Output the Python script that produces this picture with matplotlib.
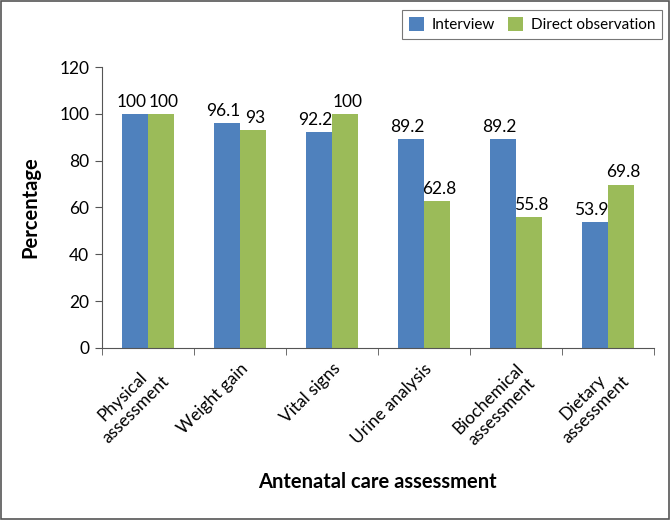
import matplotlib
matplotlib.use("Agg")
import matplotlib.pyplot as plt
import numpy as np
from matplotlib.patches import Rectangle

categories = ["Physical\nassessment", "Weight gain", "Vital signs", "Urine analysis",
              "Biochemical\nassessment", "Dietary\nassessment"]
interview = [100, 96.1, 92.2, 89.2, 89.2, 53.9]
direct_obs = [100, 93, 100, 62.8, 55.8, 69.8]
interview_labels = ["100", "96.1", "92.2", "89.2", "89.2", "53.9"]
direct_labels = ["100", "93", "100", "62.8", "55.8", "69.8"]

plt.rcParams['font.family'] = ['Lato', 'DejaVu Sans']

fig = plt.figure(figsize=(6.7, 5.2), dpi=100)
ax = fig.add_axes([0.152, 0.331, 0.824, 0.54])

x = np.arange(len(categories))
w = 0.28
blue = "#4F81BD"
green = "#9BBB59"
b1 = ax.bar(x - w/2, interview, w, color=blue, label="Interview")
b2 = ax.bar(x + w/2, direct_obs, w, color=green, label="Direct observation")

for xi, v, t in zip(x, interview, interview_labels):
    ax.text(xi - w/2 - 0.04, v + 1.8, t, ha="center", va="bottom", fontsize=12.5)
for xi, v, t in zip(x, direct_obs, direct_labels):
    ax.text(xi + w/2 + 0.03, v + 1.8, t, ha="center", va="bottom", fontsize=12.5)

ax.set_xlim(-0.5, len(categories) - 0.5)
ax.set_ylim(0, 120)
ax.set_yticks(np.arange(0, 121, 20))
ax.tick_params(axis="y", direction="out", length=5, labelsize=12.5, color="#555555", pad=4)
ax.set_xticks(x)
ax.set_xticklabels(categories, rotation=45, ha="right", rotation_mode="anchor",
                   fontsize=12.5, linespacing=1.15, multialignment="center")
ax.tick_params(axis="x", which="major", length=0, pad=9)
ax.set_xticks(np.arange(-0.5, len(categories)), minor=True)
ax.tick_params(axis="x", which="minor", direction="out", length=5, color="#555555")

for s in ["top", "right"]:
    ax.spines[s].set_visible(False)
for s in ["left", "bottom"]:
    ax.spines[s].set_color("#555555")

ax.set_ylabel("Percentage", fontsize=14.5, fontweight="bold", labelpad=14)
ax.set_xlabel("Antenatal care assessment", fontsize=14.5, fontweight="bold", labelpad=16)

leg = fig.legend(handles=[b1, b2], loc="upper right", bbox_to_anchor=(0.988, 0.98),
                 ncol=2, frameon=True, fancybox=False, edgecolor="#555555",
                 fontsize=11, handlelength=1.0, handleheight=1.0, columnspacing=0.8,
                 handletextpad=0.5, borderpad=0.45, borderaxespad=0)
leg.get_frame().set_linewidth(0.8)

fig.patches.append(Rectangle((0.002, 0.002), 0.996, 0.996, transform=fig.transFigure,
                             fill=False, edgecolor="#555555", linewidth=1.2))

fig.savefig("out.png", dpi=100)
